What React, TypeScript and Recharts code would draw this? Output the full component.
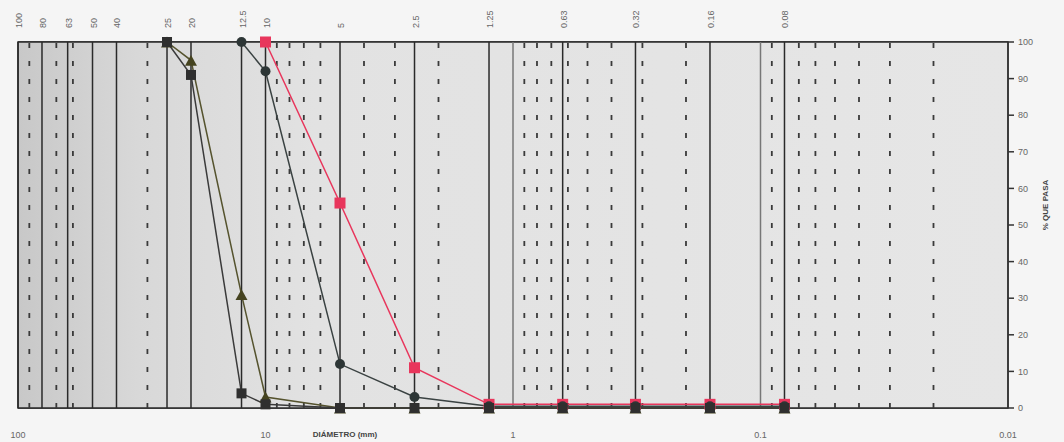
import React from 'react';
import { LineChart, Line, XAxis, YAxis, CartesianGrid, ReferenceLine, ReferenceArea } from 'recharts';

// sieve openings (mm) where the samples were read
const sizes = [25, 20, 12.5, 10, 5, 2.5, 1.25, 0.63, 0.32, 0.16, 0.08];

// % passing for each curve
const triangleSeries = [100, 95, 31, 3, 0, 0, 0, 0, 0, 0, 0];
const squareSeries = [100, 91, 4, 1, 0, 0, 0, 0, 0, 0, 0];
const circleSeries = [null, null, 100, 92, 12, 3, 0.5, 0.5, 0.5, 0.5, 0.5];
const redSeries = [null, null, null, 100, 56, 11, 1, 1, 1, 1, 1];

// top axis: sieve sizes
const sieveTicks = [100, 80, 63, 50, 40, 25, 20, 12.5, 10, 5, 2.5, 1.25, 0.63, 0.32, 0.16, 0.08];
const sieveLabels = ['100', '80', '63', '50', '40', '25', '20', '12.5', '10', '5', '2.5', '1.25', '0.63', '0.32', '0.16', '0.08'];

// bottom axis: decades
const decadeTicks = [100, 10, 1, 0.1, 0.01];
const decadeLabels = ['100', '10', '1', '0.1', '0.01'];

// dashed log subdivisions and plain decade lines
const minorLines = [90, 70, 60, 30, 9, 8, 7, 6, 4, 3, 2, 0.9, 0.8, 0.7, 0.6, 0.5, 0.4, 0.3, 0.2, 0.09, 0.07, 0.06, 0.05, 0.04, 0.03, 0.02];
const decadeLines = [1, 0.1];

const percentTicks = [0, 10, 20, 30, 40, 50, 60, 70, 80, 90, 100];

const data = sizes.map((size, i) => ({
  size,
  tri: triangleSeries[i],
  sq: squareSeries[i],
  circ: circleSeries[i],
  red: redSeries[i],
}));

const FONT = '"Liberation Sans", Arial, sans-serif';

const squareDot = (color: string, s: number) => (props: any) => {
  const { cx, cy, index, value } = props;
  if (cx == null || cy == null || value == null) return <g key={index} />;
  return <rect key={index} x={cx - s / 2} y={cy - s / 2} width={s} height={s} fill={color} />;
};

const circleDot = (color: string, r: number) => (props: any) => {
  const { cx, cy, index, value } = props;
  if (cx == null || cy == null || value == null) return <g key={index} />;
  return <circle key={index} cx={cx} cy={cy} r={r} fill={color} />;
};

const triangleDot = (color: string, s: number) => (props: any) => {
  const { cx, cy, index, value } = props;
  if (cx == null || cy == null || value == null) return <g key={index} />;
  const h = s * 0.9;
  return (
    <path
      key={index}
      d={`M${cx},${cy - h / 2} L${cx + s / 2},${cy + h / 2} L${cx - s / 2},${cy + h / 2} Z`}
      fill={color}
    />
  );
};

const TopTick = (props: any) => {
  const { x, y, payload } = props;
  const i = sieveTicks.indexOf(payload.value);
  return (
    <text
      x={x + 4}
      y={y - 6}
      transform={`rotate(-90, ${x + 4}, ${y - 6})`}
      textAnchor="start"
      fontSize={9}
      fill="#666"
      fontFamily={FONT}
    >
      {sieveLabels[i]}
    </text>
  );
};

const BottomTick = (props: any) => {
  const { x, y, payload } = props;
  const i = decadeTicks.indexOf(payload.value);
  return (
    <text x={x} y={y + 22} textAnchor="middle" fontSize={9} fill="#666" fontFamily={FONT}>
      {decadeLabels[i]}
    </text>
  );
};

export default function App() {
  return (
    <div style={{ position: 'absolute', left: 0, top: 0, width: 1064, height: 442, background: '#f5f5f5' }}>
      <LineChart width={1064} height={442} data={data} margin={{ top: 0, right: 0, bottom: 0, left: 18 }}>
        <defs>
          <linearGradient id="plotBg" x1="0" y1="0" x2="1" y2="0">
            <stop offset="0%" stopColor="#c8c8c8" />
            <stop offset="12%" stopColor="#d8d8d8" />
            <stop offset="30%" stopColor="#e2e2e2" />
            <stop offset="100%" stopColor="#e6e6e6" />
          </linearGradient>
        </defs>
        <XAxis
          xAxisId="b"
          dataKey="size"
          type="number"
          scale="log"
          domain={[0.01, 100]}
          reversed
          allowDataOverflow
          ticks={decadeTicks}
          tick={<BottomTick />}
          axisLine={false}
          tickLine={false}
          height={34}
          label={{
            content: () => (
              <text x={345} y={437} textAnchor="middle" fontSize={8} fill="#444" fontFamily={FONT} fontWeight="bold">
                DIÁMETRO (mm)
              </text>
            ),
          }}
        />
        <XAxis
          xAxisId="t"
          orientation="top"
          dataKey="size"
          type="number"
          scale="log"
          domain={[0.01, 100]}
          reversed
          allowDataOverflow
          ticks={sieveTicks}
          tick={<TopTick />}
          axisLine={false}
          tickLine={false}
          height={42}
          interval={0}
        />
        <YAxis
          orientation="right"
          domain={[0, 100]}
          ticks={percentTicks}
          interval={0}
          width={56}
          axisLine={{ stroke: '#333', strokeWidth: 1.5 }}
          tickLine={{ stroke: '#333', strokeWidth: 1.5 }}
          tickSize={6}
          tick={{ fontSize: 9, fill: '#666', fontFamily: FONT, dx: 2 }}
          label={{
            content: () => (
              <text
                x={1048}
                y={205}
                transform="rotate(-90, 1048, 205)"
                textAnchor="middle"
                fontSize={8}
                fill="#444"
                fontFamily={FONT}
                fontWeight="bold"
              >
                % QUE PASA
              </text>
            ),
          }}
        />
        <ReferenceArea xAxisId="b" x1={100} x2={0.01} y1={0} y2={100} fill="url(#plotBg)" fillOpacity={1} stroke="#2a2a2a" strokeWidth={1.5} />
        <CartesianGrid xAxisId="b" vertical={false} stroke="#2a2a2a" strokeWidth={1.5} />
        {minorLines.map((v) => (
          <ReferenceLine key={`m${v}`} xAxisId="b" x={v} stroke="#3a3a3a" strokeWidth={1.8} strokeDasharray="5 13" />
        ))}
        {decadeLines.map((v) => (
          <ReferenceLine key={`d${v}`} xAxisId="b" x={v} stroke="#777" strokeWidth={1.5} />
        ))}
        {sieveTicks.map((v) => (
          <ReferenceLine key={`s${v}`} xAxisId="b" x={v} stroke="#2a2a2a" strokeWidth={1.5} />
        ))}
        <Line
          xAxisId="b"
          dataKey="red"
          stroke="#e8365c"
          strokeWidth={1.5}
          dot={squareDot('#e8365c', 11)}
          isAnimationActive={false}
        />
        <Line
          xAxisId="b"
          dataKey="tri"
          stroke="#55532e"
          strokeWidth={1.5}
          dot={triangleDot('#45431f', 12)}
          isAnimationActive={false}
        />
        <Line
          xAxisId="b"
          dataKey="circ"
          stroke="#3a4242"
          strokeWidth={1.5}
          dot={circleDot('#2d3636', 5)}
          isAnimationActive={false}
        />
        <Line
          xAxisId="b"
          dataKey="sq"
          stroke="#3a3a3a"
          strokeWidth={1.5}
          dot={squareDot('#2f2f2f', 10)}
          isAnimationActive={false}
        />
      </LineChart>
    </div>
  );
}
